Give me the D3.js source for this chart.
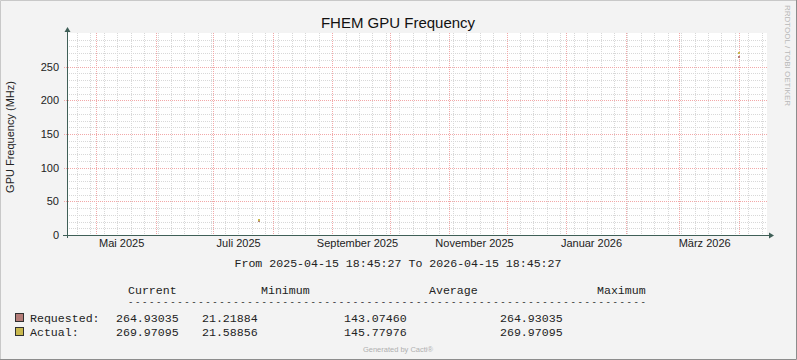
<!DOCTYPE html>
<html>
<head>
<meta charset="utf-8">
<script src="https://cdn.jsdelivr.net/npm/d3@7"></script>
<style>
  html, body { margin: 0; padding: 0; background: #f3f3f3; }
  svg { display: block; }
  .sans { font-family: "Liberation Sans", Arial, sans-serif; }
  .mono { font-family: "Liberation Mono", "Courier New", monospace; }
</style>
</head>
<body>
<svg id="chart" width="797" height="360"></svg>
<script>
/* FHEM GPU Frequency - rrdtool style yearly graph */

const START = new Date(2025, 3, 15, 18, 45, 27);
const END = new Date(2026, 3, 15, 18, 45, 27);

const SERIES_NAMES = ["Requested", "Actual"];
const SERIES_COLORS = ["#b47c78", "#c8b84e"];

// isolated samples (one-day consolidated points)
const requestedDates = [new Date(2025, 6, 24, 12), new Date(2026, 2, 31, 12)];
const requestedValues = [21.21884, 264.93035];
const actualDates = [new Date(2025, 6, 24, 12), new Date(2026, 2, 31, 12)];
const actualValues = [21.58856, 269.97095];

const yTicks = [0, 50, 100, 150, 200, 250];
const xLabelMonths = [new Date(2025, 4, 1), new Date(2025, 6, 1), new Date(2025, 8, 1),
                      new Date(2025, 10, 1), new Date(2026, 0, 1), new Date(2026, 2, 1)];
const xLabels = ["Mai 2025", "Juli 2025", "September 2025", "November 2025", "Januar 2026", "März 2026"];

const legendHeaders = ["Current", "Minimum", "Average", "Maximum"];
const legendRows = [
  ["264.93035", "21.21884", "143.07460", "264.93035"],
  ["269.97095", "21.58856", "145.77976", "269.97095"],
];

const W = 797, H = 360;
const plot = { left: 67, right: 767, top: 33, bottom: 235 };

const svg = d3.select("#chart");

// frame
svg.append("rect").attr("x", 0).attr("y", 0).attr("width", W).attr("height", H).attr("fill", "#f3f3f3");
svg.append("path").attr("d", `M0.5,${H} V0.5 H${W}`).attr("stroke", "#c8c8c8").attr("fill", "none");
svg.append("path").attr("d", `M0,${H - 0.5} H${W - 0.5} V0`).attr("stroke", "#8c8c8c").attr("fill", "none");

const x = d3.scaleTime().domain([START, END]).range([plot.left, plot.right]);
const y = d3.scaleLinear().domain([0, 300]).range([plot.bottom, plot.top]);

// plot background
svg.append("rect")
  .attr("x", plot.left).attr("y", plot.top)
  .attr("width", plot.right - plot.left).attr("height", plot.bottom - plot.top)
  .attr("fill", "#ffffff");

const grid = svg.append("g");

// minor grid - weeks and every 10 MHz
d3.timeMonday.range(START, END).forEach(d => {
  const px = Math.round(x(d)) + 0.5;
  grid.append("line").attr("x1", px).attr("x2", px).attr("y1", plot.top).attr("y2", plot.bottom)
    .attr("stroke", "#d8d8d8").attr("stroke-dasharray", "1,1");
});
d3.range(10, 300, 10).filter(v => v % 50 !== 0).forEach(v => {
  const py = Math.round(y(v)) + 0.5;
  grid.append("line").attr("x1", plot.left).attr("x2", plot.right).attr("y1", py).attr("y2", py)
    .attr("stroke", "#d8d8d8").attr("stroke-dasharray", "1,1");
});

// major grid - months and every 50 MHz
d3.timeMonth.range(START, END).forEach(d => {
  const px = Math.round(x(d)) + 0.5;
  grid.append("line").attr("x1", px).attr("x2", px).attr("y1", plot.top).attr("y2", plot.bottom + 2)
    .attr("stroke", "#f2a8a8").attr("stroke-dasharray", "1,1");
});
yTicks.filter(v => v > 0).forEach(v => {
  const py = Math.round(y(v)) + 0.5;
  grid.append("line").attr("x1", plot.left - 3).attr("x2", plot.right).attr("y1", py).attr("y2", py)
    .attr("stroke", "#f2a8a8").attr("stroke-dasharray", "1,1");
});

// data points
const series = [
  { dates: requestedDates, values: requestedValues, color: SERIES_COLORS[0] },
  { dates: actualDates, values: actualValues, color: SERIES_COLORS[1] },
];
series.forEach(s => {
  s.dates.forEach((d, i) => {
    svg.append("rect")
      .attr("x", Math.round(x(d)))
      .attr("y", Math.round(y(s.values[i])) - 1)
      .attr("width", 2).attr("height", 2)
      .attr("fill", s.color);
  });
});

// axes
const axisColor = "#3f5f57";
svg.append("line").attr("x1", plot.left - 4).attr("x2", plot.right + 3)
  .attr("y1", plot.bottom + 0.5).attr("y2", plot.bottom + 0.5).attr("stroke", axisColor);
svg.append("line").attr("x1", plot.left + 0.5).attr("x2", plot.left + 0.5)
  .attr("y1", plot.bottom + 3).attr("y2", plot.top - 2).attr("stroke", axisColor);
svg.append("path").attr("d", `M${plot.right + 7},${plot.bottom + 0.5} l-5,-3 v6 z`).attr("fill", axisColor);
svg.append("path").attr("d", `M${plot.left + 0.5},${plot.top - 6} l-3,5 h6 z`).attr("fill", axisColor);

// y axis labels
const yAxis = d3.axisLeft(y).tickValues(yTicks).tickSize(0).tickPadding(8);
const gy = svg.append("g").attr("transform", `translate(${plot.left},0)`).call(yAxis);
gy.select(".domain").remove();
gy.selectAll("text").attr("class", "sans").attr("font-size", 11).attr("fill", "#222");

// x axis labels centred mid-month-ish
const labelOffsetDays = 13;
const xAxis = d3.axisBottom(x)
  .tickValues(xLabelMonths.map(d => d3.timeDay.offset(d, labelOffsetDays)))
  .tickFormat((d, i) => xLabels[i])
  .tickSize(0).tickPadding(4);
const gx = svg.append("g").attr("transform", `translate(0,${plot.bottom})`).call(xAxis);
gx.select(".domain").remove();
gx.selectAll("text").attr("class", "sans").attr("font-size", 11).attr("fill", "#222");

// title
svg.append("text").attr("class", "sans").attr("x", 398).attr("y", 28)
  .attr("text-anchor", "middle").attr("font-size", 15).attr("fill", "#111")
  .text("FHEM GPU Frequency");

// y axis title
svg.append("text").attr("class", "sans")
  .attr("transform", "translate(14,137) rotate(-90)")
  .attr("text-anchor", "middle").attr("font-size", 11).attr("fill", "#222")
  .text("GPU Frequency (MHz)");

// watermark
svg.append("text").attr("class", "sans")
  .attr("transform", "translate(785,5) rotate(90)")
  .attr("font-size", 8).attr("fill", "#b8b8b8")
  .text("RRDTOOL / TOBI OETIKER");

// time range line
svg.append("text").attr("class", "mono").attr("x", 398).attr("y", 267)
  .attr("text-anchor", "middle").attr("font-size", 11.6).attr("fill", "#222")
  .attr("xml:space", "preserve")
  .text("From 2025-04-15 18:45:27 To 2026-04-15 18:45:27");

// legend
const headerX = [128, 261, 429, 597];
legendHeaders.forEach((h, i) => {
  svg.append("text").attr("class", "mono").attr("x", headerX[i]).attr("y", 294)
    .attr("font-size", 11.6).attr("fill", "#222").text(h);
});
svg.append("text").attr("class", "mono").attr("x", 128).attr("y", 305)
  .attr("font-size", 9).attr("fill", "#222")
  .attr("textLength", 518).attr("lengthAdjust", "spacing")
  .text("-".repeat(74));

const valueX = [116, 202, 344, 500];
const rowY = [322, 336];
SERIES_NAMES.forEach((name, r) => {
  svg.append("rect").attr("x", 15.5).attr("y", rowY[r] - 8.5).attr("width", 8).attr("height", 8)
    .attr("fill", SERIES_COLORS[r]).attr("stroke", "#303030");
  svg.append("text").attr("class", "mono").attr("x", 30).attr("y", rowY[r])
    .attr("font-size", 11.6).attr("fill", "#222").text(name + ":");
  legendRows[r].forEach((v, i) => {
    svg.append("text").attr("class", "mono").attr("x", valueX[i]).attr("y", rowY[r])
      .attr("font-size", 11.6).attr("fill", "#222").text(v);
  });
});

svg.append("text").attr("class", "sans").attr("x", 398).attr("y", 352)
  .attr("text-anchor", "middle").attr("font-size", 7.5).attr("fill", "#b0b0b0")
  .text("Generated by Cacti®");
</script>
</body>
</html>
